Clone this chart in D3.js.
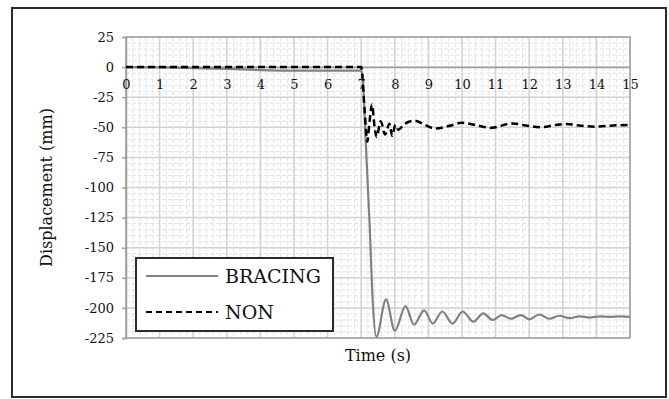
<!DOCTYPE html>
<html>
<head>
<meta charset="utf-8">
<script src="https://cdn.jsdelivr.net/npm/d3@7"></script>
<style>
  body { margin: 0; background: #fff; }
  text { font-family: "DejaVu Serif", "Liberation Serif", serif; fill: #111; }
</style>
</head>
<body>
<svg id="chart" width="669" height="399"></svg>
<script>
// time (s) and displacement (mm)
const bracingTime = [0, 1, 2, 3, 4, 5, 6, 7.0, 7.05, 7.13, 7.25, 7.34, 7.45, 7.74, 8.0, 8.32, 8.57, 8.87, 9.13, 9.41, 9.72, 10.02, 10.34, 10.63, 10.91, 11.18, 11.45, 11.75, 12.0, 12.3, 12.6, 12.9, 13.2, 13.5, 13.8, 14.1, 14.4, 14.7, 15];
const bracingDisp = [0, -0.3, -0.8, -1.5, -2.5, -3, -3, -3, -10, -60, -130, -193, -224, -193, -219, -198.5, -214, -202, -213, -203, -213, -203, -211.5, -204.5, -210, -206, -209, -206, -209.5, -205.5, -209, -206.5, -208.5, -207, -208, -207, -207.5, -207, -207.5];

const nonTime = [0, 7.0, 7.1, 7.18, 7.25, 7.32, 7.4, 7.46, 7.58, 7.71, 7.84, 7.92, 8.02, 8.1, 8.3, 8.6, 8.9, 9.2, 9.6, 10.0, 10.4, 10.85, 11.5, 11.9, 12.35, 12.8, 13.1, 13.5, 13.95, 14.5, 15];
const nonDisp = [0, 0, -35, -62, -45, -31, -50, -58, -45, -56, -47, -57, -48, -52, -47, -44.5, -48, -51, -49, -46.3, -48, -50.5, -46.8, -48.5, -50, -48, -47.3, -48.5, -49.5, -48.5, -48];

const xTicks = d3.range(0, 16, 1);
const yTicks = d3.range(25, -226, -25);
const seriesNames = ["BRACING", "NON"];

const svg = d3.select("#chart");

// outer frame
svg.append("rect")
  .attr("x", 12).attr("y", 8).attr("width", 654).attr("height", 389)
  .attr("fill", "none").attr("stroke", "#2b2b2b").attr("stroke-width", 2);

const x = d3.scaleLinear().domain([0, 15]).range([126, 630]);
const y = d3.scaleLinear().domain([-225, 25]).range([338, 37]);

const grid = svg.append("g");

// minor grid
grid.selectAll(".mx").data(d3.range(0, 15.01, 0.2)).enter().append("line")
  .attr("x1", d => x(d)).attr("x2", d => x(d)).attr("y1", y(25)).attr("y2", y(-225))
  .attr("stroke", "#e2e2e2").attr("stroke-width", 1).attr("stroke-dasharray", "4,2");
grid.selectAll(".my").data(d3.range(25, -225.01, -5)).enter().append("line")
  .attr("x1", x(0)).attr("x2", x(15)).attr("y1", d => y(d)).attr("y2", d => y(d))
  .attr("stroke", "#e2e2e2").attr("stroke-width", 1).attr("stroke-dasharray", "4,2");

// major grid
grid.selectAll(".gx").data(xTicks).enter().append("line")
  .attr("x1", d => x(d)).attr("x2", d => x(d)).attr("y1", y(25)).attr("y2", y(-225))
  .attr("stroke", "#d2d2d2").attr("stroke-width", 1.5);
grid.selectAll(".gy").data(yTicks).enter().append("line")
  .attr("x1", x(0)).attr("x2", x(15)).attr("y1", d => y(d)).attr("y2", d => y(d))
  .attr("stroke", "#d2d2d2").attr("stroke-width", 1.5);

// plot border
svg.append("rect")
  .attr("x", x(0)).attr("y", y(25)).attr("width", x(15) - x(0)).attr("height", y(-225) - y(25))
  .attr("fill", "none").attr("stroke", "#a0a0a0").attr("stroke-width", 1.5);

// y axis
const yAxis = svg.append("g")
  .attr("transform", `translate(${x(0)},0)`)
  .call(d3.axisLeft(y).tickValues(yTicks).tickFormat(d => String(d)).tickSize(4).tickPadding(8));
yAxis.select(".domain").attr("stroke", "#a0a0a0").attr("stroke-width", 1.5);
yAxis.selectAll(".tick line").attr("stroke", "#a0a0a0").attr("stroke-width", 1.5);
yAxis.selectAll(".tick text").style("font-size", "13px").attr("fill", "#111")
  .style("font-family", '"DejaVu Serif", serif');

// x axis at zero line
const xAxis = svg.append("g")
  .attr("transform", `translate(0,${y(0)})`)
  .call(d3.axisBottom(x).tickValues(xTicks).tickFormat(d => String(d)).tickSize(0).tickPadding(13));
xAxis.select(".domain").attr("stroke", "#9a9a9a").attr("stroke-width", 1.5);
xAxis.selectAll(".tick text").style("font-size", "13px").attr("fill", "#111")
  .style("font-family", '"DejaVu Serif", serif');

// lines
const line = d3.line().x(d => x(d[0])).y(d => y(d[1])).curve(d3.curveMonotoneX);
svg.append("clipPath").attr("id", "clip").append("rect")
  .attr("x", x(0)).attr("y", y(25)).attr("width", x(15) - x(0)).attr("height", y(-225) - y(25));

svg.append("path")
  .datum(d3.zip(bracingTime, bracingDisp))
  .attr("clip-path", "url(#clip)")
  .attr("d", line)
  .attr("fill", "none").attr("stroke", "#808080").attr("stroke-width", 2.2)
  .attr("stroke-linejoin", "round");

svg.append("path")
  .datum(d3.zip(nonTime, nonDisp))
  .attr("clip-path", "url(#clip)")
  .attr("d", line)
  .attr("fill", "none").attr("stroke", "#000").attr("stroke-width", 2.5)
  .attr("stroke-dasharray", "7,4");

// axis titles
svg.append("text")
  .attr("transform", `translate(52,${(y(25) + y(-225)) / 2}) rotate(-90)`)
  .attr("text-anchor", "middle")
  .style("font-size", "16px")
  .text("Displacement (mm)");

svg.append("text")
  .attr("x", (x(0) + x(15)) / 2).attr("y", 361)
  .attr("text-anchor", "middle")
  .style("font-size", "16px")
  .text("Time (s)");

// legend
const legend = svg.append("g");
legend.append("rect")
  .attr("x", 136).attr("y", 258).attr("width", 197).attr("height", 73)
  .attr("fill", "#fff").attr("stroke", "#2b2b2b").attr("stroke-width", 2);

const legendStyles = [
  { stroke: "#808080", width: 2.2, dash: null },
  { stroke: "#000", width: 2, dash: "6,4" }
];
seriesNames.forEach((name, i) => {
  const ly = 276 + i * 36;
  legend.append("line")
    .attr("x1", 146).attr("x2", 218).attr("y1", ly).attr("y2", ly)
    .attr("stroke", legendStyles[i].stroke).attr("stroke-width", legendStyles[i].width)
    .attr("stroke-dasharray", legendStyles[i].dash);
  legend.append("text")
    .attr("x", 225).attr("y", ly + 7)
    .style("font-size", "19px")
    .text(name);
});
</script>
</body>
</html>
